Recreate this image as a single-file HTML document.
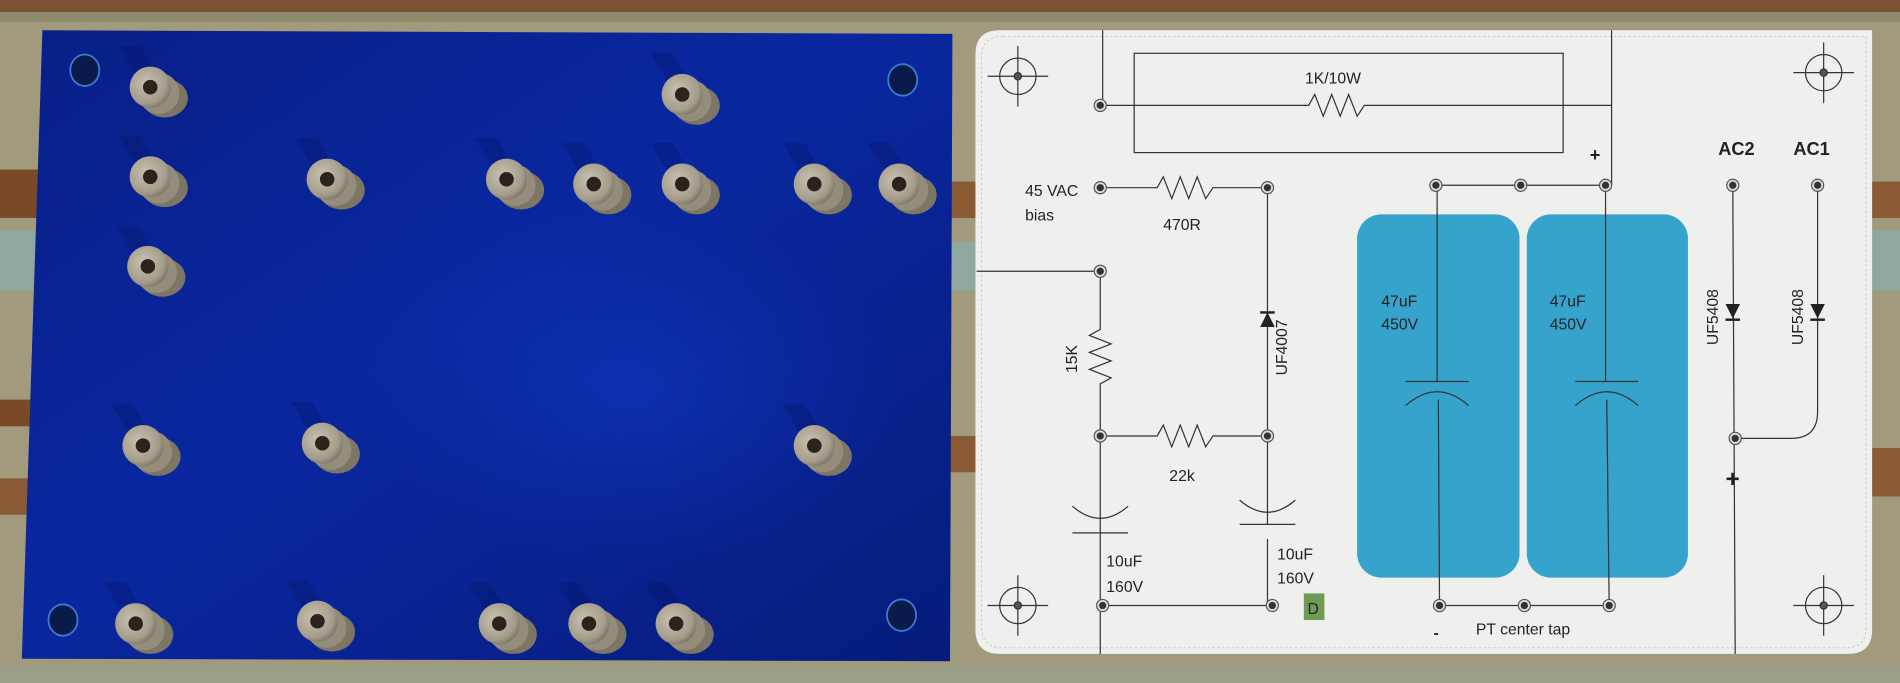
<!DOCTYPE html>
<html><head><meta charset="utf-8">
<style>
html,body{margin:0;padding:0;width:1900px;height:683px;overflow:hidden;background:#9c9478;}
svg{display:block}
text{font-family:"Liberation Sans",sans-serif;fill:#222;}
</style></head><body>
<svg width="1900" height="683" viewBox="0 0 1568 564" preserveAspectRatio="none" xmlns="http://www.w3.org/2000/svg">
<defs>
<linearGradient id="bl" x1="0" y1="0" x2="1" y2="1">
<stop offset="0" stop-color="#081f86"/><stop offset="0.45" stop-color="#0a27a0"/><stop offset="1" stop-color="#061c7c"/>
</linearGradient>
<radialGradient id="glow" cx="0.5" cy="0.5" r="0.5">
<stop offset="0" stop-color="#1236c0" stop-opacity="0.6"/><stop offset="1" stop-color="#1236c0" stop-opacity="0"/>
</radialGradient>
<radialGradient id="tur" cx="0.4" cy="0.4" r="0.7">
<stop offset="0" stop-color="#c8c2b2"/><stop offset="0.7" stop-color="#a49c8a"/><stop offset="1" stop-color="#6e6656"/>
</radialGradient>
<g id="t">
<polygon points="-12,-10 6,-10 -8,-34 -26,-34" fill="#041560" opacity="0.3"/>
<ellipse cx="12" cy="9" rx="19" ry="16" fill="#7e7664"/>
<circle cx="7" cy="5" r="17" fill="#958d7b"/>
<circle cx="0" cy="0" r="17" fill="url(#tur)"/>
<circle cx="0" cy="0" r="6" fill="#2a241c"/>
</g>
<g id="n"><circle r="5" fill="#ddd" stroke="#555" stroke-width="1"/><circle r="3" fill="#333"/></g>
<g id="x" stroke="#333" stroke-width="1" fill="none"><circle r="15"/><line x1="-25" y1="0" x2="25" y2="0"/><line x1="0" y1="-25" x2="0" y2="25"/><circle r="3" fill="#555"/></g>
</defs>
<rect width="1568" height="564" fill="#a29a7c"/>
<rect y="0" width="1568" height="10" fill="#7d5232"/>
<rect y="10" width="1568" height="8" fill="#8e8a6c"/>
<rect y="140" width="40" height="40" fill="#7a4a28"/>
<rect y="190" width="40" height="50" fill="#8ea8a0"/>
<rect y="330" width="40" height="22" fill="#7a4a28"/>
<rect y="395" width="40" height="30" fill="#8a5a34"/>
<rect x="1540" y="150" width="28" height="30" fill="#8a5a34"/>
<rect x="1540" y="190" width="28" height="50" fill="#8ea8a0"/>
<rect x="1540" y="370" width="28" height="40" fill="#8a5a34"/>
<rect x="780" y="150" width="30" height="30" fill="#8a5a34"/>
<rect x="780" y="200" width="30" height="40" fill="#8ea8a0"/>
<rect x="780" y="360" width="30" height="30" fill="#8a5a34"/>
<rect y="550" width="1568" height="14" fill="#9aa088"/>
<polygon points="35,25 786,28 784,546 18,544" fill="url(#bl)"/>
<ellipse cx="520" cy="320" rx="220" ry="150" fill="url(#glow)"/>
<g fill="#0a1a4a" stroke="#3a7ad0" stroke-width="1.5">
<ellipse cx="70" cy="58" rx="12" ry="13"/><ellipse cx="745" cy="66" rx="12" ry="13"/>
<ellipse cx="52" cy="512" rx="12" ry="13"/><ellipse cx="744" cy="508" rx="12" ry="13"/>
</g>
<use href="#t" x="124" y="72"/><use href="#t" x="563" y="78"/>
<use href="#t" x="124" y="146"/><use href="#t" x="270" y="148"/><use href="#t" x="418" y="148"/><use href="#t" x="490" y="152"/><use href="#t" x="563" y="152"/><use href="#t" x="672" y="152"/><use href="#t" x="742" y="152"/>
<use href="#t" x="122" y="220"/>
<use href="#t" x="118" y="368"/><use href="#t" x="266" y="366"/><use href="#t" x="672" y="368"/>
<use href="#t" x="112" y="515"/><use href="#t" x="262" y="513"/><use href="#t" x="412" y="515"/><use href="#t" x="486" y="515"/><use href="#t" x="558" y="515"/>
<path d="M825,25 H1545 V520 Q1545,540 1525,540 H825 Q805,540 805,520 V45 Q805,25 825,25 Z" fill="#efefed"/>
<path d="M828,30 H1540 V518 Q1540,535 1523,535 H828 Q810,535 810,518 V47 Q810,30 828,30 Z" fill="none" stroke="#bbb" stroke-width="0.6" stroke-dasharray="2,2"/>
<use href="#x" x="840" y="63"/><use href="#x" x="1505" y="60"/><use href="#x" x="840" y="500"/><use href="#x" x="1505" y="500"/>
<rect x="1120" y="177" width="134" height="300" rx="20" fill="#35a3cb"/>
<rect x="1260" y="177" width="133" height="300" rx="20" fill="#35a3cb"/>
<g stroke="#333" stroke-width="1" fill="none">
<line x1="910" y1="25" x2="910" y2="87"/>
<rect x="936" y="44" width="354" height="82"/>
<polyline points="910,87 1080,87 1085,78 1092,96 1099,78 1106,96 1113,78 1120,96 1126,87 1330,87"/>
<line x1="1330" y1="25" x2="1330" y2="153"/>
<polyline points="908,155 955,155 960,146 967,164 974,146 981,164 988,146 995,164 1001,155 1046,155"/>
<line x1="806" y1="224" x2="908" y2="224"/>
<polyline points="908,224 908,272 899,277 917,284 899,291 917,298 899,305 917,312 908,317 908,540"/>
<polyline points="908,360 955,360 960,351 967,369 974,351 981,369 988,351 995,369 1001,360 1046,360"/>
<line x1="1046" y1="155" x2="1046" y2="433"/>
<line x1="1046" y1="445" x2="1046" y2="500"/>
<path d="M885,418 Q908,438 931,418"/>
<line x1="885" y1="440" x2="931" y2="440"/>
<path d="M1023,413 Q1046,433 1069,413"/>
<line x1="1023" y1="433" x2="1069" y2="433"/>
<line x1="910" y1="500" x2="1050" y2="500"/>
<line x1="1185" y1="153" x2="1330" y2="153"/>
<line x1="1186" y1="153" x2="1186" y2="315"/>
<line x1="1187" y1="330" x2="1188" y2="500"/>
<line x1="1325" y1="153" x2="1325" y2="315"/>
<line x1="1326" y1="330" x2="1328" y2="500"/>
<line x1="1160" y1="315" x2="1212" y2="315"/>
<path d="M1160,335 Q1186,312 1212,335"/>
<line x1="1300" y1="315" x2="1352" y2="315"/>
<path d="M1300,335 Q1326,312 1352,335"/>
<line x1="1188" y1="500" x2="1328" y2="500"/>
<line x1="1430" y1="153" x2="1432" y2="540"/>
<path d="M1500,153 V340 Q1500,362 1478,362 H1432"/>
</g>
<g fill="#222">
<polygon points="1040,270 1052,270 1046,258"/><rect x="1040" y="257" width="12" height="2"/>
<polygon points="1424,251 1436,251 1430,263"/><rect x="1424" y="263" width="12" height="2"/>
<polygon points="1494,251 1506,251 1500,263"/><rect x="1494" y="263" width="12" height="2"/>
</g>
<use href="#n" x="908" y="87"/>
<use href="#n" x="908" y="155"/><use href="#n" x="1046" y="155"/>
<use href="#n" x="908" y="224"/>
<use href="#n" x="908" y="360"/><use href="#n" x="1046" y="360"/>
<use href="#n" x="910" y="500"/><use href="#n" x="1050" y="500"/>
<use href="#n" x="1185" y="153"/><use href="#n" x="1255" y="153"/><use href="#n" x="1325" y="153"/>
<use href="#n" x="1188" y="500"/><use href="#n" x="1258" y="500"/><use href="#n" x="1328" y="500"/>
<use href="#n" x="1430" y="153"/><use href="#n" x="1500" y="153"/><use href="#n" x="1432" y="362"/>
<rect x="1076" y="490" width="17" height="22" fill="#6f9c55"/>
<text x="1079" y="507" font-size="13" fill="#333">D</text>
<g font-size="13">
<text x="1077" y="69">1K/10W</text>
<text x="1312" y="133" font-size="15" font-weight="bold">+</text>
<text x="846" y="162">45 VAC</text>
<text x="846" y="182">bias</text>
<text x="960" y="190">470R</text>
<text x="965" y="397">22k</text>
<text transform="translate(889,308) rotate(-90)">15K</text>
<text transform="translate(1062,310) rotate(-90)">UF4007</text>
<text x="913" y="468">10uF</text><text x="913" y="489">160V</text>
<text x="1054" y="462">10uF</text><text x="1054" y="482">160V</text>
<text x="1140" y="253">47uF</text><text x="1140" y="272">450V</text>
<text x="1279" y="253">47uF</text><text x="1279" y="272">450V</text>
<text x="1183" y="527" font-weight="bold">-</text>
<text x="1218" y="524">PT center tap</text>
<text x="1418" y="128" font-size="15" font-weight="bold">AC2</text>
<text x="1480" y="128" font-size="15" font-weight="bold">AC1</text>
<text transform="translate(1418,285) rotate(-90)">UF5408</text>
<text transform="translate(1488,285) rotate(-90)">UF5408</text>
<text x="1424" y="402" font-size="20" font-weight="bold">+</text>
</g>
</svg>
</body></html>
